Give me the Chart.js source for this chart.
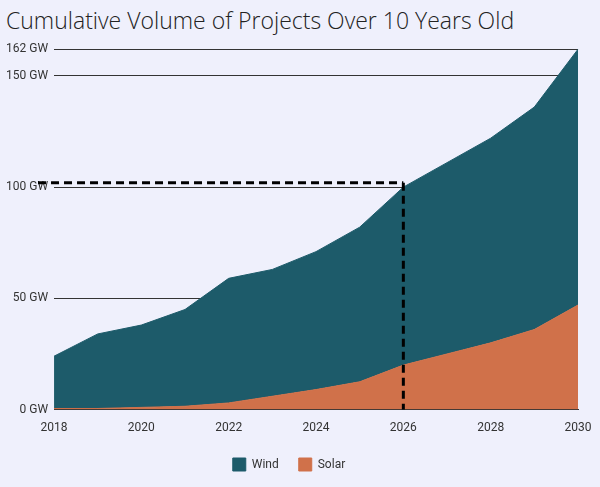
<!DOCTYPE html>
<html><head><meta charset="utf-8">
<script src="https://cdn.jsdelivr.net/npm/chart.js@4"></script>
<style>
html,body{margin:0;padding:0;background:#eff0fc;}
#t{font-family:"Open Sans",sans-serif;font-weight:300;font-size:23px;color:#222;position:absolute;left:6px;top:4px;}
#w{position:absolute;left:0;top:36px;width:600px;height:451px;}
</style></head><body>
<div id="t">Cumulative Volume of Projects Over 10 Years Old</div>
<div id="w"><canvas id="c"></canvas></div>
<script>
const years=['2018','2019','2020','2021','2022','2023','2024','2025','2026','2027','2028','2029','2030'];
const solar=[0.5,0.5,1,1.5,3,6,9,12.5,20,25,30,36,47];
const wind=[23.5,33.5,37,43.5,56,57,62,69.5,80,86,92,100,115];
const refYear='2026', refValue=102;
const dashPlugin={id:'dash',afterDatasetsDraw(ch){
 const x=ch.scales.x,y=ch.scales.y,c=ch.ctx;
 const x0=x.getPixelForValue(0),x1=x.getPixelForValue(years.indexOf(refYear));
 const yv=y.getPixelForValue(refValue),y0=y.getPixelForValue(0);
 c.save();c.strokeStyle='#000';c.lineWidth=3;c.setLineDash([8,5]);
 c.beginPath();c.moveTo(x0-16,yv);c.lineTo(x1,yv);c.moveTo(x1,yv);c.lineTo(x1,y0);c.stroke();c.restore();}};
new Chart(document.getElementById('c'),{type:'line',
data:{labels:years,datasets:[
 {label:'Solar',data:solar,backgroundColor:'#d0714a',borderColor:'#d0714a',fill:'origin',pointRadius:0,borderWidth:1,tension:0},
 {label:'Wind',data:wind,backgroundColor:'#1d5b6a',borderColor:'#1d5b6a',fill:'-1',pointRadius:0,borderWidth:1,tension:0}]},
options:{responsive:true,maintainAspectRatio:false,animation:false,
 layout:{padding:{left:0,right:22,top:6,bottom:6}},
 plugins:{legend:{position:'bottom',reverse:true,labels:{boxWidth:13,boxHeight:13,padding:20,color:'#333',font:{family:'Roboto',size:12}}},tooltip:{enabled:false}},
 scales:{x:{offset:false,grid:{display:false},border:{color:'#333'},ticks:{color:'#333',maxRotation:0,autoSkip:false,callback:(v,i)=>i%2===0?years[i]:'',font:{family:'Roboto',size:12}}},
  y:{stacked:true,min:0,max:162,border:{display:false},grid:{color:'#333',drawTicks:false},ticks:{stepSize:50,padding:6,color:'#333',callback:v=>v+' GW',font:{family:'Roboto',size:12}}}}},
plugins:[dashPlugin]});
</script></body></html>
